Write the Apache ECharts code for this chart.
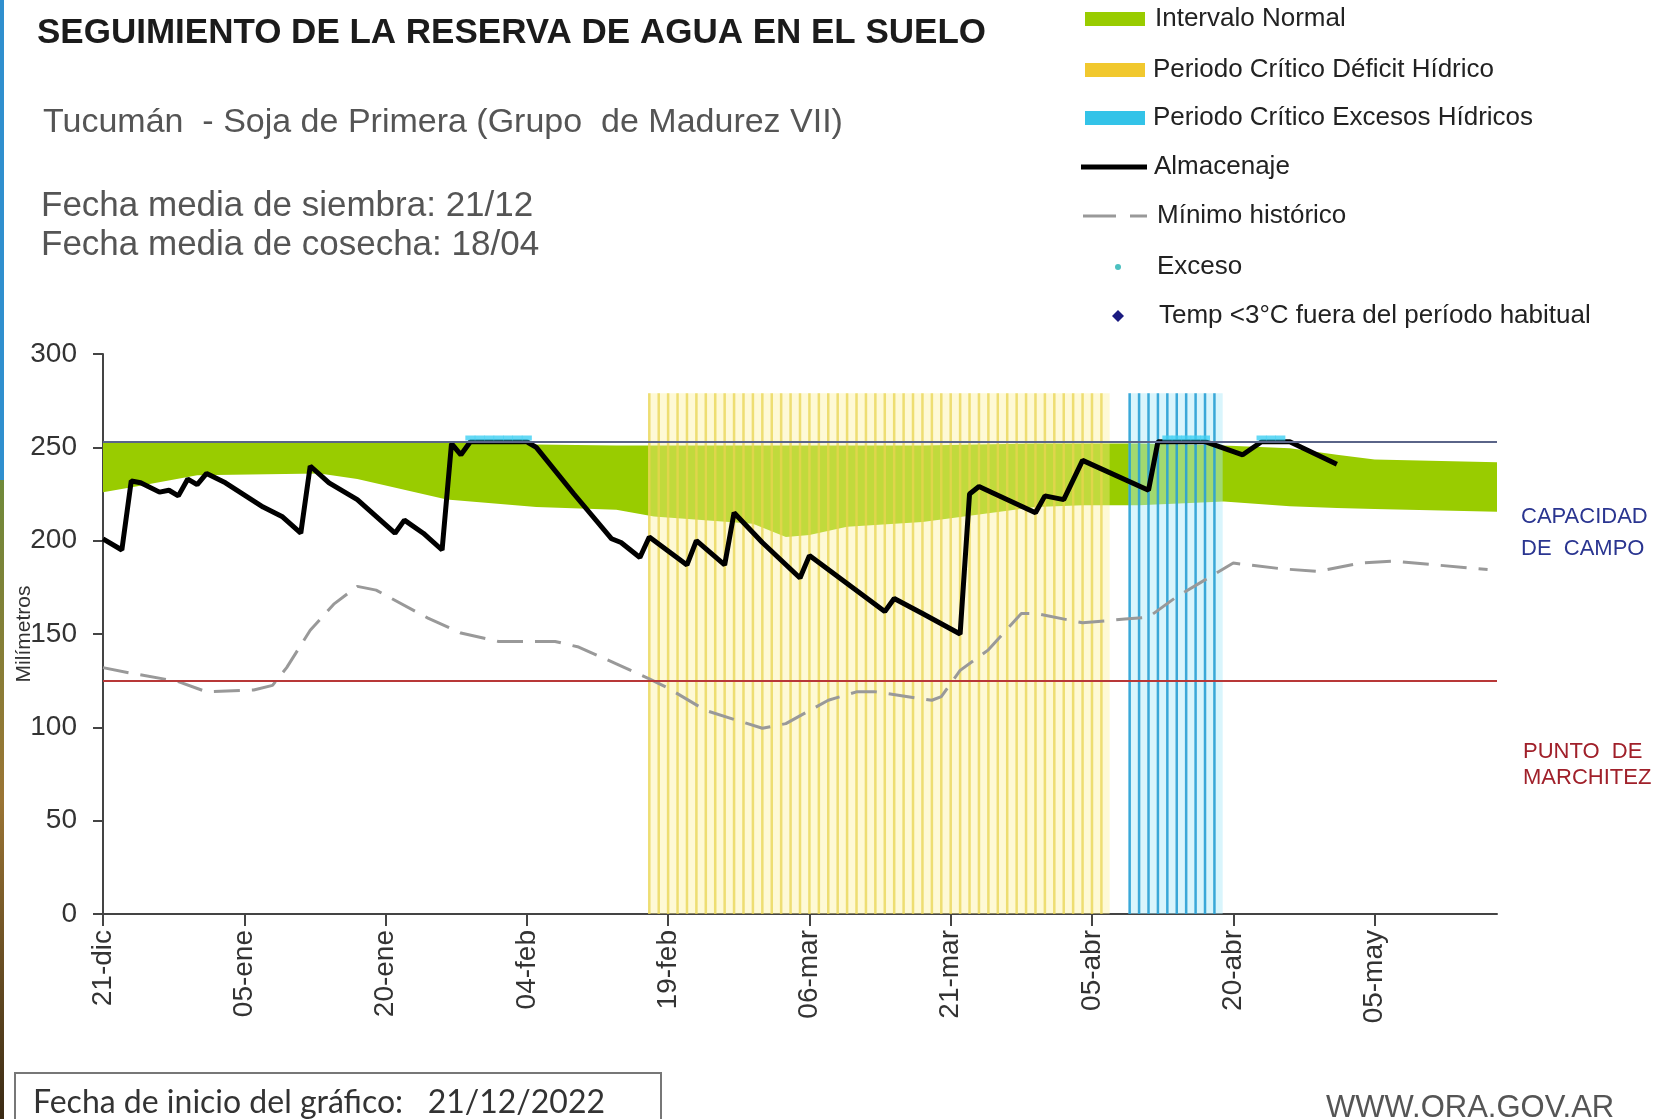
<!DOCTYPE html>
<html>
<head>
<meta charset="utf-8">
<title>Seguimiento de la reserva de agua en el suelo</title>
<script src="https://cdn.jsdelivr.net/npm/echarts@6/dist/echarts.min.js"></script>
<style>
  html, body { margin: 0; padding: 0; background: #fff; }
  #chart { width: 1661px; height: 1119px; }
</style>
</head>
<body>
<div id="chart"></div>
<script>
// eje x en días desde el 21/12
const tickDays = [0, 15, 30, 45, 60, 75, 90, 105, 120, 135];
const tickLabels = ["21-dic", "05-ene", "20-ene", "04-feb", "19-feb", "06-mar", "21-mar", "05-abr", "20-abr", "05-may"];
const lastDay = 148;

// almacenaje (mm)
const storageDays = [0, 2, 3, 4, 6, 7, 8, 9, 10, 11, 13, 17, 19, 21, 22, 24, 27, 29, 31, 32, 34, 36, 37, 38, 39, 45, 46, 50, 54, 55, 57, 58, 62, 63, 66, 67, 70, 74, 75, 79, 83, 84, 87, 91, 92, 93, 99, 100, 102, 104, 111, 112, 117, 121, 123, 126, 131];
const storageMm = [201, 195, 232, 231, 226, 227, 224, 233, 230, 236, 231, 218, 213, 204, 240, 231, 222, 213, 204, 211, 204, 195, 252, 246, 253, 253, 250, 225, 201, 199, 191, 202, 187, 200, 187, 215, 199, 180, 192, 177, 162, 169, 161, 150, 225, 229, 215, 224, 222, 243, 227, 253, 253, 246, 253, 253, 241];

// mínimo histórico (mm)
const minDays = [0, 3, 8, 11, 16, 18, 19.5, 22, 24.5, 27, 29, 34.5, 38, 42, 48, 50.5, 54.5, 58, 60, 64, 70, 72.5, 77, 80, 82, 88, 89, 91, 94, 97.5, 99, 104, 108.5, 111, 114, 117, 120, 125, 129, 133.5, 137, 141.5, 147];
const minMm = [132, 129, 124.5, 119, 120, 122.5, 132, 152, 166, 175.5, 173.5, 158.5, 150.5, 146, 146, 143, 134, 126, 121, 109, 99.5, 102, 114.5, 119, 119, 114.5, 116.5, 130.5, 141.5, 161, 161, 156, 158, 159, 170, 179, 188, 185, 183.5, 188, 189, 187, 184.5];

// intervalo normal (mm)
const bandDays = [0, 3.5, 10, 23, 27, 36.5, 46, 54.5, 58.5, 69, 72.5, 75, 79, 87, 93, 99, 104, 110, 119, 126, 131, 135, 148];
const bandLow = [226, 229, 235, 236, 233, 222, 218, 216.5, 213, 209, 202, 203, 207.5, 210, 214, 218, 219, 219, 221, 218.5, 217.5, 217, 215.5];
const bandHigh = [253, 253, 253, 253, 253, 253, 251.5, 251, 251, 251, 251, 251, 251, 251, 251.5, 252, 252, 252, 251, 249.5, 246, 243.5, 242];

// periodos críticos (días con franja)
const deficitDays = [58, 59, 60, 61, 62, 63, 64, 65, 66, 67, 68, 69, 70, 71, 72, 73, 74, 75, 76, 77, 78, 79, 80, 81, 82, 83, 84, 85, 86, 87, 88, 89, 90, 91, 92, 93, 94, 95, 96, 97, 98, 99, 100, 101, 102, 103, 104, 105, 106];
const excessPeriodDays = [109, 110, 111, 112, 113, 114, 115, 116, 117, 118];
const stripeTop = 279;

// días con exceso
const excesoDays = [39, 40, 41, 42, 43, 44, 45, 113, 114, 115, 116, 117, 123, 124, 125];
const excesoMm = 255;

const capacityMm = 253;
const wiltingMm = 125;

const FONT = '"Liberation Sans", Arial, sans-serif';
const pair = (xs, ys) => xs.map((x, i) => [x, ys[i]]);

function text(x, y, str, size, color, weight, family) {
  return {
    type: "text", x: x, y: y, z: 10,
    style: {
      text: str, fontSize: size, fontFamily: family || FONT,
      fontWeight: weight || "normal", fill: color, verticalAlign: "middle"
    }
  };
}

let myChart = echarts.init(document.getElementById("chart"));

let legendY = [19, 70, 118, 167, 216, 267, 316];
let option = {
  animation: false,
  backgroundColor: "#fff",
  grid: { left: 103, right: 164, top: 354, bottom: 205, outerBoundsMode: "none" },
  xAxis: {
    type: "value",
    min: 0,
    max: lastDay,
    axisLine: { lineStyle: { color: "#444", width: 2 } },
    axisTick: { customValues: tickDays, length: 12, lineStyle: { color: "#444", width: 2 } },
    axisLabel: {
      customValues: tickDays,
      rotate: 90,
      margin: 16,
      fontSize: 28,
      fontFamily: FONT,
      color: "#333",
      formatter: (v) => tickLabels[tickDays.indexOf(v)]
    },
    splitLine: { show: false }
  },
  yAxis: {
    type: "value",
    min: 0,
    max: 300,
    interval: 50,
    name: "Milímetros",
    nameLocation: "middle",
    nameRotate: 90,
    nameGap: 68,
    nameMoveOverlap: false,
    nameTextStyle: { fontSize: 21, fontFamily: FONT, color: "#333" },
    axisLine: { show: true, lineStyle: { color: "#444", width: 2 } },
    axisTick: { show: true, length: 10, lineStyle: { color: "#444", width: 2 } },
    axisLabel: { margin: 26, fontSize: 28, fontFamily: FONT, color: "#333" },
    splitLine: { show: false }
  },
  series: [
    {
      // banda verde entre el límite inferior y superior
      name: "Intervalo Normal", type: "custom", z: 1, silent: true,
      data: [[bandDays[0], bandLow[0]]],
      renderItem: (params, api) => {
        let top = bandDays.map((d, i) => api.coord([d, bandHigh[i]]));
        let bottom = bandDays.map((d, i) => api.coord([d, bandLow[i]])).reverse();
        return { type: "polygon", shape: { points: top.concat(bottom) }, style: { fill: "#99cc00" } };
      }
    },
    {
      name: "Periodo Crítico Déficit Hídrico", type: "bar", z: 2, silent: true,
      data: deficitDays.map((d) => [d, stripeTop]),
      barWidth: 9.5, barGap: "-100%",
      itemStyle: { color: "rgba(252, 240, 150, 0.4)" }
    },
    {
      name: "deficitLinea", type: "bar", z: 2, silent: true,
      data: deficitDays.map((d) => [d, stripeTop]),
      barWidth: 2.5, barGap: "-100%",
      itemStyle: { color: "rgba(232, 212, 80, 0.75)" }
    },
    {
      name: "Periodo Crítico Excesos Hídricos", type: "bar", z: 2, silent: true,
      data: excessPeriodDays.map((d) => [d, stripeTop]),
      barWidth: 9.5, barGap: "-100%",
      itemStyle: { color: "rgba(170, 232, 248, 0.45)" }
    },
    {
      name: "excesosLinea", type: "bar", z: 2, silent: true,
      data: excessPeriodDays.map((d) => [d, stripeTop]),
      barWidth: 2.5, barGap: "-100%",
      itemStyle: { color: "rgba(40, 160, 212, 0.9)" }
    },
    {
      name: "Mínimo histórico", type: "line", z: 3,
      data: pair(minDays, minMm), symbol: "none",
      lineStyle: { color: "#999", width: 3, type: [26, 12] }
    },
    {
      name: "Almacenaje", type: "line", z: 4,
      data: pair(storageDays, storageMm), symbol: "none",
      lineStyle: { color: "#000", width: 5 },
      markLine: {
        silent: true,
        symbol: ["none", "none"],
        label: { show: false },
        data: [
          { yAxis: capacityMm, lineStyle: { color: "#5a6488", width: 2, type: "solid" } },
          { yAxis: wiltingMm, lineStyle: { color: "#b83838", width: 2, type: "solid" } }
        ]
      }
    },
    {
      name: "Exceso", type: "scatter", z: 5,
      data: excesoDays.map((d) => [d, excesoMm]),
      symbol: "rect", symbolSize: [10, 5],
      itemStyle: { color: "#3fd0f2" }
    }
  ],
  graphic: {
    elements: [
      // borde izquierdo de la captura
      { type: "rect", left: 0, top: 0, shape: { width: 4, height: 480 }, style: { fill: "#2f8fce" } },
      {
        type: "rect", left: 0, top: 480, shape: { width: 4, height: 639 },
        style: {
          fill: new echarts.graphic.LinearGradient(0, 0, 0, 1, [
            { offset: 0, color: "#6f8a3a" }, { offset: 0.5, color: "#9a7434" }, { offset: 1, color: "#3a2a14" }
          ])
        }
      },
      text(37, 33, "SEGUIMIENTO DE LA RESERVA DE AGUA EN EL SUELO", 35, "#1b1b1b", "bold"),
      text(43, 123, "Tucumán  - Soja de Primera (Grupo  de Madurez VII)", 34, "#555"),
      text(41, 206, "Fecha media de siembra: 21/12", 35, "#555"),
      text(41, 245, "Fecha media de cosecha: 18/04", 35, "#555"),

      // leyenda
      { type: "rect", shape: { x: 1085, y: legendY[0] - 7, width: 60, height: 14 }, style: { fill: "#99cc00" } },
      { type: "rect", shape: { x: 1085, y: legendY[1] - 7, width: 60, height: 14 }, style: { fill: "#f1c82e" } },
      { type: "rect", shape: { x: 1085, y: legendY[2] - 7, width: 60, height: 14 }, style: { fill: "#33c3e8" } },
      { type: "line", shape: { x1: 1081, y1: legendY[3], x2: 1147, y2: legendY[3] }, style: { stroke: "#000", lineWidth: 5 } },
      { type: "line", shape: { x1: 1083, y1: legendY[4], x2: 1147, y2: legendY[4] }, style: { stroke: "#999", lineWidth: 3, lineDash: [33, 14] } },
      { type: "circle", shape: { cx: 1118, cy: legendY[5], r: 3 }, style: { fill: "#4cc0c0" } },
      { type: "polygon", shape: { points: [[1118, legendY[6] - 6], [1124, legendY[6]], [1118, legendY[6] + 6], [1112, legendY[6]]] }, style: { fill: "#1a1a80" } },
      text(1155, legendY[0], "Intervalo Normal", 26, "#222"),
      text(1153, legendY[1], "Periodo Crítico Déficit Hídrico", 26, "#222"),
      text(1153, legendY[2], "Periodo Crítico Excesos Hídricos", 26, "#222"),
      text(1154, legendY[3], "Almacenaje", 26, "#222"),
      text(1157, legendY[4], "Mínimo histórico", 26, "#222"),
      text(1157, legendY[5], "Exceso", 26, "#222"),
      text(1159, legendY[6], "Temp <3°C fuera del período habitual", 26, "#222"),

      // rótulos de las líneas de referencia
      text(1521, 517, "CAPACIDAD", 22, "#2a3590"),
      text(1521, 549, "DE  CAMPO", 22, "#2a3590"),
      text(1523, 752, "PUNTO  DE", 22, "#a0202a"),
      text(1523, 778, "MARCHITEZ", 22, "#a0202a"),

      // pie
      { type: "rect", shape: { x: 15, y: 1073, width: 646, height: 60 }, style: { fill: "#fff", stroke: "#777", lineWidth: 2 } },
      text(33, 1103, "Fecha de inicio del gráfico:   21/12/2022", 32, "#333", "normal", "Lato, sans-serif"),
      text(1326, 1108, "WWW.ORA.GOV.AR", 31, "#555")
    ]
  }
};

myChart.setOption(option);
</script>
</body>
</html>
